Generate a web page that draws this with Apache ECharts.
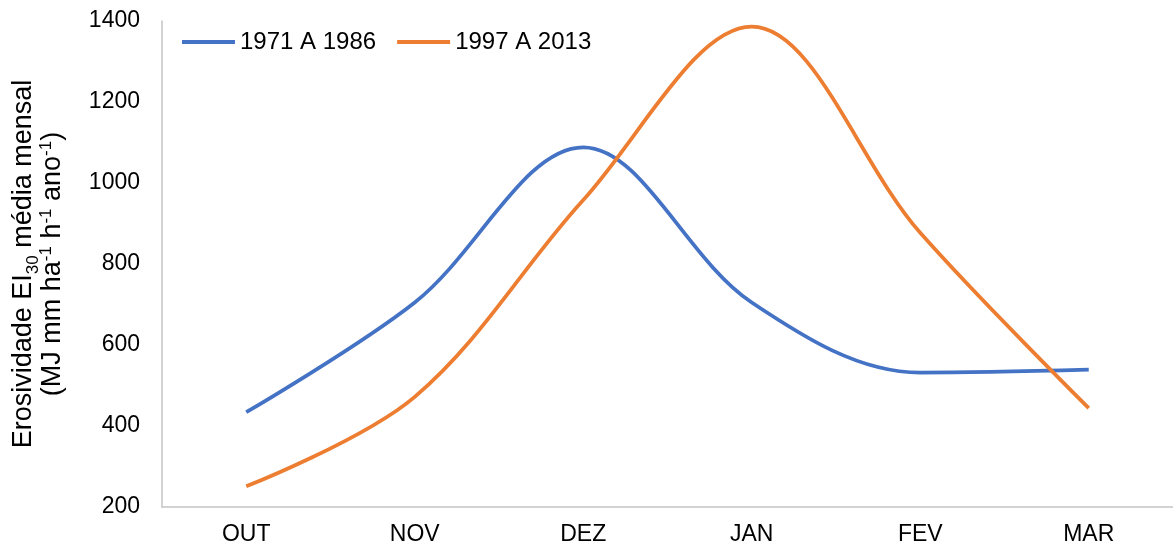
<!DOCTYPE html>
<html>
<head>
<meta charset="utf-8">
<script src="https://cdn.jsdelivr.net/npm/echarts@6/dist/echarts.min.js"></script>
<style>
html,body{margin:0;padding:0;background:#fff;}
#chart{width:1173px;height:548px;}
</style>
</head>
<body>
<div id="chart"></div>
<script>
const categories = ['OUT', 'NOV', 'DEZ', 'JAN', 'FEV', 'MAR'];
const seriesNames = ['1971 A 1986', '1997 A 2013'];
const values1971 = [434, 705, 1088, 705, 532, 539];
const values1997 = [251, 472, 958, 1386, 877, 444];
const yTicks = { min: 200, max: 1400, interval: 200 };

const FONT = 'Liberation Sans, Arial, sans-serif';
const chart = echarts.init(document.getElementById('chart'));
chart.setOption({
  backgroundColor: '#ffffff',
  animation: false,
  grid: { left: 162, right: 0, top: 21, bottom: 41, containLabel: false },
  legend: {
    left: 177, top: 25,
    icon: 'rect', itemWidth: 53, itemHeight: 4, itemGap: 21,
    textStyle: { fontFamily: FONT, fontSize: 24, color: '#000' },
    data: seriesNames
  },
  xAxis: {
    type: 'category', data: categories, boundaryGap: true,
    axisLine: { lineStyle: { color: '#c4c4c4', width: 1.5 } },
    axisTick: { show: false },
    axisLabel: { fontFamily: FONT, fontSize: 23, color: '#000', margin: 16 },
    splitLine: { show: false }
  },
  yAxis: {
    type: 'value', min: yTicks.min, max: yTicks.max, interval: yTicks.interval,
    axisLine: { show: true, lineStyle: { color: '#c4c4c4', width: 1.5 } },
    axisTick: { show: false },
    axisLabel: { fontFamily: FONT, fontSize: 23, color: '#000', margin: 22, formatter: v => String(v) },
    splitLine: { show: false },
    name: '{a|Erosividade EI}{sub|30}{a| média mensal}\n{a|(MJ mm ha}{sup|-1}{a| h}{sup|-1}{a| ano}{sup|-1}{a|)}',
    nameLocation: 'middle', nameRotate: 90, nameGap: 95,
    nameTextStyle: {
      fontFamily: FONT, fontSize: 27, color: '#000', lineHeight: 29,
      rich: {
        a: { fontFamily: FONT, fontSize: 27, color: '#000', lineHeight: 29 },
        sub: { fontFamily: FONT, fontSize: 17, color: '#000', verticalAlign: 'bottom', lineHeight: 29, padding: [0, 0, -4, 0] },
        sup: { fontFamily: FONT, fontSize: 17, color: '#000', verticalAlign: 'top', lineHeight: 29 }
      }
    }
  },
  series: [
    {
      name: seriesNames[0], type: 'line', data: values1971, smooth: 0.35,
      showSymbol: false, symbol: 'none',
      lineStyle: { color: '#4472C4', width: 3.75 }, itemStyle: { color: '#4472C4' }
    },
    {
      name: seriesNames[1], type: 'line', data: values1997, smooth: 0.35,
      showSymbol: false, symbol: 'none',
      lineStyle: { color: '#ED7D31', width: 3.75 }, itemStyle: { color: '#ED7D31' }
    }
  ]
});
</script>
</body>
</html>
